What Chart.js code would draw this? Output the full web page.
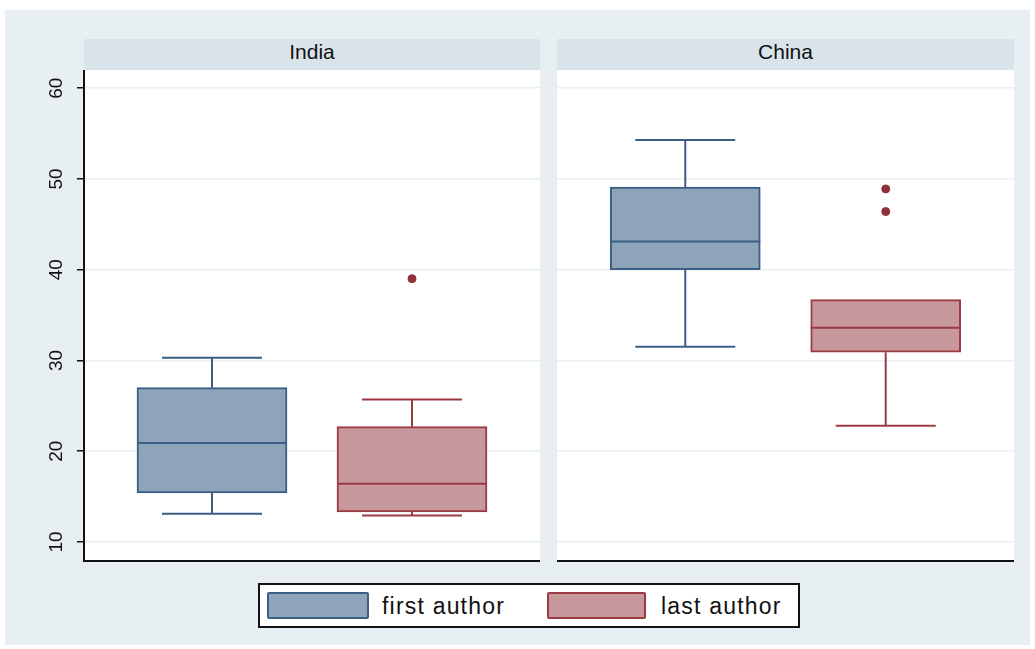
<!DOCTYPE html>
<html>
<head>
<meta charset="utf-8">
<script src="https://cdn.jsdelivr.net/npm/chart.js@4.4.1/dist/chart.umd.min.js"></script>
<style>
  body { margin: 0; background: #fff; width: 1035px; height: 649px; position: relative; overflow: hidden;
         font-family: "Liberation Sans", Arial, sans-serif; color: #111; }
  #frame { position: absolute; left: 5px; top: 10px; width: 1025px; height: 635px; background: #e8eff2; }
  .strip { position: absolute; top: 39px; height: 31px; background: #d9e4ea; text-align: center;
           font-size: 21px; line-height: 26px; }
  canvas { position: absolute; top: 70px; }
  #legend { position: absolute; left: 258px; top: 583px; width: 538px; height: 41px; background: #fff;
            border: 2px solid #111; font-size: 23px; letter-spacing: 1.2px; }
  .sw { position: absolute; top: 7px; height: 23px; border-radius: 2px; }
  .lt { position: absolute; top: 9px; line-height: 24px; }
</style>
</head>
<body>
<div id="frame"></div>
<div class="strip" style="left:84px;width:456px;">India</div>
<div class="strip" style="left:557px;width:457px;">China</div>
<canvas id="india" width="540" height="494" style="left:0px;"></canvas>
<canvas id="china" width="457" height="494" style="left:557px;"></canvas>
<div id="legend">
  <div class="sw" id="sw1" style="left:7px;width:98px;"></div>
  <div class="lt" id="lt1" style="left:122px;"></div>
  <div class="sw" id="sw2" style="left:287px;width:95px;"></div>
  <div class="lt" id="lt2" style="left:401px;"></div>
</div>
<script>
// five-number summaries: lower whisker, q1, median, q3, upper whisker
const seriesNames = ["first author", "last author"];
const indiaFirst = [13.1, 15.4, 20.9, 27.0, 30.3];
const indiaLast = [12.9, 13.3, 16.4, 22.7, 25.7];
const chinaFirst = [31.5, 40.0, 43.1, 49.1, 54.3];
const chinaLast = [22.8, 30.9, 33.6, 36.7, 36.7];
const indiaLastOutliers = [39.0];
const chinaLastOutliers = [48.9, 46.4];
const yTicks = [10, 20, 30, 40, 50, 60];

const blueFill = "#8da4b9", blueLine = "#3a5e86";
const redFill = "#c8999c", redLine = "#9b3a43", dotColor = "#90303a";

document.getElementById("sw1").style.cssText += "background:" + blueFill + ";border:2px solid " + blueLine;
document.getElementById("sw2").style.cssText += "background:" + redFill + ";border:2px solid " + redLine;
document.getElementById("lt1").textContent = seriesNames[0];
document.getElementById("lt2").textContent = seriesNames[1];

const plotBg = {
  id: "plotBg",
  beforeDraw(chart) {
    const { ctx, chartArea: a } = chart;
    ctx.save();
    ctx.fillStyle = "#fff";
    ctx.fillRect(a.left, a.top, a.right - a.left, a.bottom - a.top);
    ctx.restore();
  }
};

const whiskers = {
  id: "whiskers",
  afterDatasetsDraw(chart) {
    const { ctx, scales: { x, y } } = chart;
    chart.data.datasets.forEach((ds, i) => {
      if (!ds.stats) return;
      const bar = chart.getDatasetMeta(i).data[0];
      const s = ds.stats;
      const cx = x.getPixelForValue(ds.pos);
      const half = bar.width / 2;
      const cap = half * 2 / 3;
      const seg = (x1, y1, x2, y2) => { ctx.beginPath(); ctx.moveTo(x1, y1); ctx.lineTo(x2, y2); ctx.stroke(); };
      ctx.save();
      ctx.strokeStyle = ds.borderColor;
      ctx.lineWidth = 2;
      seg(cx - half, y.getPixelForValue(s[2]), cx + half, y.getPixelForValue(s[2]));
      if (s[4] > s[3]) {
        seg(cx, y.getPixelForValue(s[3]), cx, y.getPixelForValue(s[4]));
        seg(cx - cap, y.getPixelForValue(s[4]), cx + cap, y.getPixelForValue(s[4]));
      }
      if (s[0] < s[1]) {
        seg(cx, y.getPixelForValue(s[1]), cx, y.getPixelForValue(s[0]));
        seg(cx - cap, y.getPixelForValue(s[0]), cx + cap, y.getPixelForValue(s[0]));
      }
      ctx.restore();
    });
  }
};

function boxSet(name, stats, pos, fill, line) {
  return {
    type: "bar", label: name, stats: stats, pos: pos,
    data: [{ x: pos, y: [stats[1], stats[3]] }],
    backgroundColor: fill, borderColor: line, borderWidth: 2, borderSkipped: false,
    barThickness: 150, grouped: false, order: 2
  };
}

function dotSet(values, pos) {
  return {
    type: "scatter", label: "outside values",
    data: values.map(v => ({ x: pos, y: v })),
    backgroundColor: dotColor, borderColor: dotColor, pointRadius: 4, order: 1
  };
}

function makePanel(id, first, last, firstOut, lastOut, withAxis) {
  const datasets = [
    boxSet(seriesNames[0], first, 1, blueFill, blueLine),
    boxSet(seriesNames[1], last, 2, redFill, redLine)
  ];
  if (firstOut.length) datasets.push(dotSet(firstOut, 1));
  if (lastOut.length) datasets.push(dotSet(lastOut, 2));
  new Chart(document.getElementById(id).getContext("2d"), {
    type: "bar",
    data: { datasets: datasets },
    plugins: [plotBg, whiskers],
    options: {
      responsive: false,
      animation: false,
      layout: { autoPadding: false, padding: { top: 0, bottom: 3, left: 0, right: 0 } },
      plugins: { legend: { display: false }, tooltip: { enabled: false } },
      scales: {
        x: {
          type: "linear", min: 0.36, max: 2.64, offset: false,
          afterFit: s => { s.height = 0; s.paddingLeft = 0; s.paddingRight = 0; },
          ticks: { display: false },
          grid: { display: false, drawTicks: false, offset: false },
          border: { color: "#111", width: 2 }
        },
        y: {
          min: 7.9, max: 62,
          afterBuildTicks: s => { s.ticks = yTicks.map(v => ({ value: v })); },
          afterFit: s => { s.width = withAxis ? 84 : 0; s.paddingTop = 0; s.paddingBottom = 0; },
          grid: { color: "#e9eff2", lineWidth: 1.5, drawTicks: withAxis, tickColor: "#111", tickLength: 7, tickWidth: 1.5 },
          border: { display: withAxis, color: "#111", width: 2 },
          ticks: {
            display: withAxis, minRotation: 90, maxRotation: 90, crossAlign: "center", padding: 10,
            color: "#111", font: { family: "'Liberation Sans', Arial, sans-serif", size: 19 }
          }
        }
      }
    }
  });
}

makePanel("india", indiaFirst, indiaLast, [], indiaLastOutliers, true);
makePanel("china", chinaFirst, chinaLast, [], chinaLastOutliers, false);
</script>
</body>
</html>
